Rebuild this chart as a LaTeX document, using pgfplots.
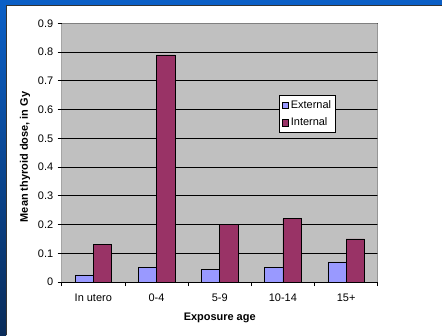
\documentclass[border=0pt]{standalone}
\usepackage{pgfplots}
\pgfplotsset{compat=1.18}
\usepackage{fontspec}
\setmainfont{Liberation Sans}

\definecolor{extcol}{HTML}{9999FF}
\definecolor{intcol}{HTML}{993366}
\definecolor{plotbg}{HTML}{C0C0C0}
\definecolor{slideblue}{HTML}{0B5FC6}
\definecolor{slidedark}{HTML}{0A2C5A}

\pgfplotsset{
  every axis legend/.append style={
    at={(axis description cs:0.688,0.723)}, anchor=north west,
    draw=black, fill=white, line width=0.7bp,
    inner xsep=2.5bp, inner ysep=0.8bp, row sep=0bp,
    nodes={inner xsep=2bp, inner ysep=0bp, text height=12bp, text depth=5.8bp},
    font=\fontsize{11}{13}\selectfont,
  },
}

\begin{document}
\begin{tikzpicture}[x=1bp,y=1bp]
  % slide background: white panel with blue top and left edges
  \useasboundingbox (0,0) rectangle (442,335);
  \fill[white] (0,0) rectangle (442,335);
  \fill[slideblue] (0,330) rectangle (442,335);
  \draw[black!80,line width=0.8bp] (6,329.6) -- (442,329.6);
  \shade[top color=slideblue,bottom color=slidedark] (0,0) rectangle (6,330);
  \draw[black!80,line width=0.6bp] (6,0) -- (6,329.6);

  \begin{axis}[
    at={(61.7bp,53bp)}, anchor=south west,
    scale only axis, width=316bp, height=258.7bp,
    font=\fontsize{11}{13}\selectfont,
    axis background/.style={fill=plotbg},
    xmin=-0.5, xmax=4.5, ymin=0, ymax=0.9,
    ybar=0pt, bar width=18.3bp,
    xtick={0,1,2,3,4},
    xticklabels={In utero,0-4,5-9,10-14,15+},
    minor xtick={-0.5,0.5,1.5,2.5,3.5,4.5},
    major x tick style={draw=none},
    minor x tick style={black, line width=0.6bp},
    minor tick length=4bp,
    ytick={0,0.1,...,0.9},
    y tick style={black, line width=0.6bp},
    major tick length=4bp,
    tick align=outside, tick pos=lower,
    ymajorgrids, grid style={black, line width=0.7bp},
    axis line style={draw=none},
    xticklabel style={yshift=-4bp},
    yticklabel style={xshift=-1bp},
    xlabel={\textbf{Exposure age}},
    ylabel={\textbf{Mean thyroid dose, in Gy}},
    every axis x label/.style={at={(axis description cs:0.5,-0.139)}, anchor=center},
    every axis y label/.style={at={(axis description cs:-0.116,0.483)}, rotate=90, anchor=center},
    legend cell align=left,
    legend image code/.code={\draw[#1, line width=0.5bp] (0bp,-3.2bp) rectangle (6.4bp,3.2bp);},
    /pgf/number format/.cd, fixed, precision=1, assume math mode=true,
  ]
    \addplot[fill=extcol, draw=black, line width=0.6bp] coordinates
      {(0,0.025) (1,0.05) (2,0.045) (3,0.05) (4,0.07)};
    \addplot[fill=intcol, draw=black, line width=0.6bp] coordinates
      {(0,0.13) (1,0.79) (2,0.20) (3,0.22) (4,0.15)};
    \legend{External, Internal}
    % plot-area frame: grey top and right, black left and bottom
    \draw[gray, line width=0.8bp] (rel axis cs:0,1) -- (rel axis cs:1,1) -- (rel axis cs:1,0);
    \draw[black, line width=0.8bp] (rel axis cs:0,1) -- (rel axis cs:0,0) -- (rel axis cs:1,0);
  \end{axis}
\end{tikzpicture}
\end{document}
